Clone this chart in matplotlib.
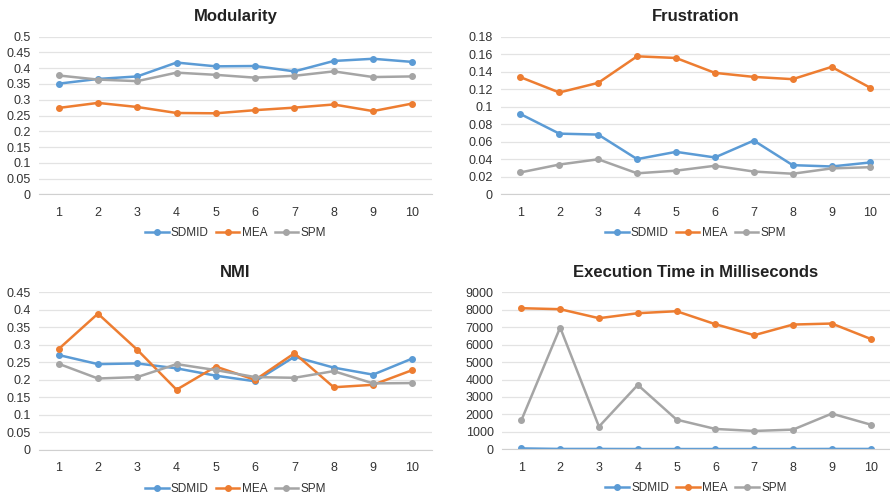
import numpy as np
import matplotlib.pyplot as plt

plt.rcParams['font.family'] = ['Liberation Sans', 'DejaVu Sans']

runs = [1, 2, 3, 4, 5, 6, 7, 8, 9, 10]
series_names = ['SDMID', 'MEA', 'SPM']
colors = ['#5B9BD5', '#ED7D31', '#A5A5A5']

# Modularity
mod_sdmid = [0.351, 0.366, 0.374, 0.418, 0.406, 0.407, 0.390, 0.423, 0.430, 0.420]
mod_mea = [0.274, 0.290, 0.277, 0.258, 0.257, 0.267, 0.275, 0.285, 0.264, 0.288]
mod_spm = [0.377, 0.364, 0.359, 0.386, 0.379, 0.370, 0.376, 0.390, 0.372, 0.374]

# Frustration
fru_sdmid = [0.0917, 0.0693, 0.0682, 0.0402, 0.0485, 0.0421, 0.0614, 0.0333, 0.0318, 0.0364]
fru_mea = [0.1338, 0.1163, 0.1273, 0.1576, 0.1557, 0.1387, 0.1341, 0.1315, 0.1455, 0.1216]
fru_spm = [0.0250, 0.0340, 0.0400, 0.0240, 0.0270, 0.0326, 0.0260, 0.0235, 0.0296, 0.0310]

# NMI
nmi_sdmid = [0.271, 0.245, 0.247, 0.233, 0.212, 0.196, 0.266, 0.235, 0.215, 0.261]
nmi_mea = [0.288, 0.389, 0.286, 0.172, 0.238, 0.200, 0.276, 0.179, 0.186, 0.228]
nmi_spm = [0.246, 0.204, 0.208, 0.245, 0.228, 0.208, 0.206, 0.225, 0.190, 0.191]

# Execution time (ms)
exe_sdmid = [50, 20, 20, 15, 15, 15, 15, 15, 20, 20]
exe_mea = [8087, 8030, 7514, 7800, 7915, 7170, 6540, 7150, 7208, 6329]
exe_spm = [1663, 6979, 1300, 3690, 1700, 1166, 1051, 1128, 2046, 1415]

panels = [
    ('Modularity', [mod_sdmid, mod_mea, mod_spm], np.arange(0, 0.501, 0.05), None,
     [0.0438, 0.6098, 0.4416, 0.3165]),
    ('Frustration', [fru_sdmid, fru_mea, fru_spm], np.arange(0, 0.181, 0.02), None,
     [0.5629, 0.6098, 0.4370, 0.3165]),
    ('NMI', [nmi_sdmid, nmi_mea, nmi_spm], np.arange(0, 0.451, 0.05), None,
     [0.0438, 0.0964, 0.4416, 0.3167]),
    ('Execution Time in Milliseconds', [exe_sdmid, exe_mea, exe_spm], np.arange(0, 9001, 1000), 'int',
     [0.5640, 0.0978, 0.4360, 0.3153]),
]

fig = plt.figure(figsize=(8.9, 4.98), dpi=100)

for title, data, yticks, fmt, rect in panels:
    ax = fig.add_axes(rect)
    for name, vals, c in zip(series_names, data, colors):
        ax.plot(runs, vals, color=c, lw=1.8, marker='o', ms=4, label=name)
    ax.set_xlim(0.5, 10.5)
    ax.set_ylim(0, yticks[-1])
    ax.set_xticks(runs)
    ax.set_yticks(yticks)
    if fmt == 'int':
        ax.set_yticklabels([f'{int(round(t))}' for t in yticks])
    else:
        ax.set_yticklabels([f'{t:.2f}'.rstrip('0').rstrip('.') if t else '0' for t in yticks])
    ax.grid(axis='y', color='#e3e3e3', lw=0.9)
    ax.set_axisbelow(True)
    for s in ['top', 'right', 'left']:
        ax.spines[s].set_visible(False)
    ax.spines['bottom'].set_color('#d0d0d0')
    ax.tick_params(axis='both', length=0, labelsize=9, colors='#333333')
    ax.tick_params(axis='x', pad=9)
    ax.tick_params(axis='y', pad=6)
    ax.set_title(title, fontsize=12, fontweight='bold', color='#222222', pad=11)
    ax.legend(loc='center', bbox_to_anchor=(0.5, -0.245), ncol=3, frameon=False,
              fontsize=8.5, handlelength=2.0, handletextpad=0.2, columnspacing=0.6,
              labelcolor='#333333')

fig.savefig('out.png', dpi=100)
